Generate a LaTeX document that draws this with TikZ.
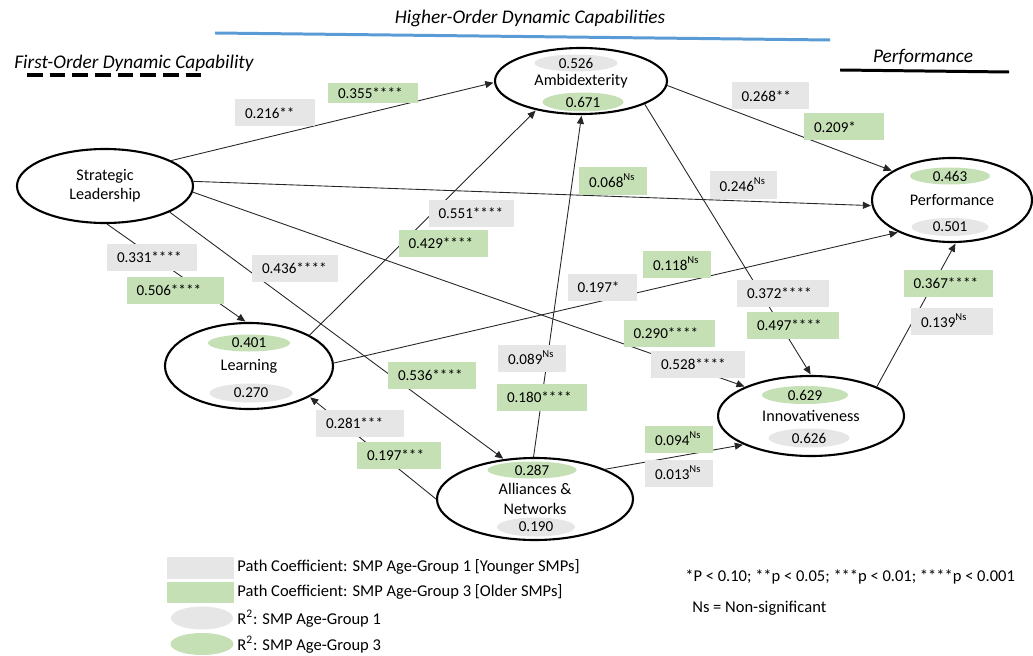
\documentclass[tikz,border=0pt]{standalone}
\usepackage{fontspec}
\setmainfont{Carlito}
\usetikzlibrary{shapes.geometric,arrows.meta}
\newdimen\pxu \pxu=0.02cm
\definecolor{boxgray}{RGB}{231,230,230}
\definecolor{boxgreen}{RGB}{197,224,180}
\definecolor{headblue}{RGB}{91,155,213}

\begin{document}
\begin{tikzpicture}[x=0.02cm,y=-0.02cm,
  construct/.style={ellipse, draw=black, line width=1.2pt, inner sep=0pt, align=center,
    font=\fontsize{9.2}{11}\selectfont},
  rsq/.style={ellipse, inner sep=0pt, font=\fontsize{8.6}{9}\selectfont},
  rsqgray/.style={rsq, fill=boxgray},
  rsqgreen/.style={rsq, fill=boxgreen},
  coef/.style={rectangle, inner xsep=10\pxu, inner ysep=0pt, minimum height=27\pxu,
    align=left, font=\fontsize{8.6}{9}\selectfont},
  coefgray/.style={coef, fill=boxgray},
  coefgreen/.style={coef, fill=boxgreen},
  link/.style={draw=black!85, line width=0.5pt, shorten >=0.4pt,
    -{Triangle[length=4.6pt,width=4pt]}},
  heading/.style={font=\fontsize{11}{13}\selectfont\itshape, inner sep=0pt},
  legendtext/.style={font=\fontsize{9.4}{11}\selectfont, inner sep=0pt, anchor=west},
]
\useasboundingbox (0,0) rectangle (1033,655);

% group headings
\node[heading] (hoc) at (530,18) {Higher-Order Dynamic Capabilities};
\draw[headblue, line width=1.7pt] (215,33) -- (830,40);
\node[heading] (foc) at (134,63) {First-Order Dynamic Capability};
\draw[line width=2pt, dash pattern=on 9pt off 3.9pt] (27,75) -- (207,75);
\node[heading] (perfhead) at (923,57) {Performance};
\draw[line width=1.7pt] (840,70) -- (1009,72);

% constructs
\node[construct, minimum width=176\pxu, minimum height=74\pxu] (sl) at (105,186) {Strategic\\Leadership};
\node[construct, minimum width=172\pxu, minimum height=66\pxu] (amb) at (581,81) {Ambidexterity};
\node[construct, minimum width=160\pxu, minimum height=84\pxu] (perf) at (952,200) {Performance};
\node[construct, minimum width=168\pxu, minimum height=86\pxu] (learn) at (249,366) {Learning};
\node[construct, minimum width=186\pxu, minimum height=80\pxu] (innov) at (811,416) {Innovativeness};
\node[construct, minimum width=196\pxu, minimum height=82\pxu] (all) at (535,499) {Alliances \&\\Networks};

% R-squared badges
\node[rsqgray,  minimum width=83\pxu, minimum height=17\pxu] (amb-r1) at (576,63) {0.526};
\node[rsqgreen, minimum width=81\pxu, minimum height=19\pxu] (amb-r3) at (583,102) {0.671};
\node[rsqgreen, minimum width=80\pxu, minimum height=17\pxu] (perf-r3) at (950,176) {0.463};
\node[rsqgray,  minimum width=77\pxu, minimum height=18\pxu] (perf-r1) at (950,227) {0.501};
\node[rsqgreen, minimum width=82\pxu, minimum height=17\pxu] (learn-r3) at (249,343) {0.401};
\node[rsqgray,  minimum width=83\pxu, minimum height=19\pxu] (learn-r1) at (251,393) {0.270};
\node[rsqgreen, minimum width=86\pxu, minimum height=18\pxu] (innov-r3) at (805,395) {0.629};
\node[rsqgray,  minimum width=81\pxu, minimum height=19\pxu] (innov-r1) at (809,438) {0.626};
\node[rsqgreen, minimum width=89\pxu, minimum height=17\pxu] (all-r3) at (532,470) {0.287};
\node[rsqgray,  minimum width=78\pxu, minimum height=19\pxu] (all-r1) at (536,527) {0.190};

% structural paths
\draw[link] (sl.21)    -- (amb.181);
\draw[link] (sl.3)     -- (perf.184);
\draw[link] (sl.273)   -- (learn.94);
\draw[link] (sl.338)   -- (all.128);
\draw[link] (sl.356)   -- (innov.156);
\draw[link] (learn.27) -- (amb.213);
\draw[link] (learn.2)  -- (perf.211);
\draw[link] (all.180)  -- (learn.333);
\draw[link] (all.92)   -- (amb.271);
\draw[link] (all.23)   -- (innov.203);
\draw[link] (amb.357)  -- (perf.154);
\draw[link] (amb.340)  -- (innov.90);
\draw[link] (innov.24) -- (perf.275);

% path coefficients (gray: group 1, green: group 3)
\node[coefgray,  text width=60\pxu] (c-sa1) at (275,113) {0.216**};
\node[coefgreen, text width=70\pxu, minimum height=20\pxu] (c-sa3) at (373,93) {0.355****};
\node[coefgray,  text width=57\pxu] (c-ap1) at (770,96) {0.268**};
\node[coefgreen, text width=60\pxu] (c-ap3) at (844,127) {0.209*};
\node[coefgreen, text width=48\pxu] (c-na3) at (613,181) {0.068\textsuperscript{Ns}};
\node[coefgray,  text width=47\pxu] (c-sp1) at (743,185) {0.246\textsuperscript{Ns}};
\node[coefgray,  text width=65\pxu] (c-la1) at (471,213) {0.551****};
\node[coefgreen, text width=69\pxu] (c-la3) at (443,243) {0.429****};
\node[coefgray,  text width=70\pxu] (c-sl1) at (152,257) {0.331****};
\node[coefgreen, text width=77\pxu] (c-sl3) at (175,290) {0.506****};
\node[coefgray,  text width=66\pxu] (c-sn1) at (295,268) {0.436****};
\node[coefgreen, text width=68\pxu] (c-sn3) at (432,375) {0.536****};
\node[coefgray,  text width=68\pxu] (c-nl1) at (360,423) {0.281***};
\node[coefgreen, text width=64\pxu] (c-nl3) at (399,455) {0.197***};
\node[coefgreen, text width=48\pxu] (c-lp3) at (677,264) {0.118\textsuperscript{Ns}};
\node[coefgray,  text width=49\pxu] (c-lp1) at (602,287) {0.197*};
\node[coefgray,  text width=72\pxu] (c-ai1) at (783,293) {0.372****};
\node[coefgreen, text width=72\pxu] (c-ai3) at (793,325) {0.497****};
\node[coefgreen, text width=71\pxu] (c-si3) at (669,333) {0.290****};
\node[coefgray,  text width=74\pxu] (c-si1) at (698,364) {0.528****};
\node[coefgray,  text width=48\pxu] (c-na1) at (532,358) {0.089\textsuperscript{Ns}};
\node[coefgreen, text width=70\pxu] (c-na3b) at (542,397) {0.180****};
\node[coefgreen, text width=69\pxu] (c-ip3) at (948,283) {0.367****};
\node[coefgray,  text width=62\pxu] (c-ip1) at (952,321) {0.139\textsuperscript{Ns}};
\node[coefgreen, text width=48\pxu] (c-ni3) at (679,439) {0.094\textsuperscript{Ns}};
\node[coefgray,  text width=48\pxu] (c-ni1) at (679,473) {0.013\textsuperscript{Ns}};

% legend
\node[fill=boxgray,  minimum width=67\pxu, minimum height=22\pxu, inner sep=0pt] (key1) at (200.5,568) {};
\node[fill=boxgreen, minimum width=67\pxu, minimum height=21\pxu, inner sep=0pt] (key2) at (200.5,592.5) {};
\node[ellipse, fill=boxgray,  minimum width=62\pxu, minimum height=23\pxu, inner sep=0pt] (key3) at (202,618) {};
\node[ellipse, fill=boxgreen, minimum width=63\pxu, minimum height=22\pxu, inner sep=0pt] (key4) at (202,644) {};
\node[legendtext] (key1t) at (237,567) {Path Coefficient: SMP Age-Group 1 [Younger SMPs]};
\node[legendtext] (key2t) at (237,592) {Path Coefficient: SMP Age-Group 3 [Older SMPs]};
\node[legendtext] (key3t) at (237,619) {R\textsuperscript{2}: SMP Age-Group 1};
\node[legendtext] (key4t) at (237,645) {R\textsuperscript{2}: SMP Age-Group 3};
\node[legendtext] (sig) at (685,577) {*P < 0.10; **p < 0.05; ***p < 0.01; ****p < 0.001};
\node[legendtext] (ns) at (692,608) {Ns = Non-significant};
\end{tikzpicture}
\end{document}
